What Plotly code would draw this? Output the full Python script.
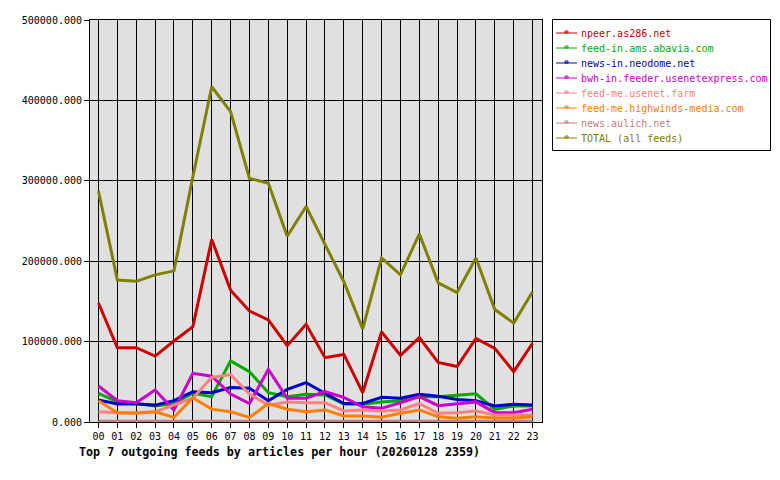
import plotly.graph_objects as go

hours = [f"{h:02d}" for h in range(24)]

npeer = [148000, 92400, 92400, 82000, 100700, 118500, 227000, 164000, 138000, 127000, 95000, 121500,
         80000, 84000, 36500, 112000, 83000, 105000, 74000, 69000, 104000, 91600, 62600, 98000]
abavia = [35700, 25000, 23000, 20000, 23000, 35700, 31500, 76000, 62600, 36500, 31500, 34400,
          33600, 22400, 22000, 25000, 26500, 31500, 31500, 33000, 35000, 15800, 20000, 20000]
neodome = [27400, 22400, 22400, 21000, 26500, 37700, 36500, 43000, 42000, 26500, 40600, 49000,
           35700, 23000, 23000, 30700, 29500, 34400, 32000, 28000, 26500, 20000, 22000, 21000]
usenetexpress = [44800, 26500, 24000, 39800, 15000, 60500, 57000, 34800, 23000, 65500, 29500, 29500,
                 37700, 30700, 19000, 17000, 24000, 31500, 20300, 22400, 25000, 11600, 11600, 15800]
usenetfarm = [12800, 11600, 11600, 12800, 21000, 29500, 55600, 59000, 34800, 21000, 25000, 24000,
              24000, 13700, 15000, 13700, 15000, 23000, 10800, 11600, 13700, 8700, 8700, 8700]
highwinds = [26500, 11600, 10800, 12800, 5800, 30000, 16000, 12800, 5800, 23000, 15800, 12800,
             15000, 7500, 7500, 5800, 10800, 15000, 6600, 4600, 6600, 5000, 5000, 6600]
aulich = [1000] * 24
total = [287000, 176600, 175000, 183000, 188000, 305000, 417000, 386000, 303000, 297000, 231000, 268000,
         221000, 174500, 115700, 204000, 183000, 234000, 173000, 161000, 204000, 140000, 123000, 162000]

names = ["npeer.as286.net", "feed-in.ams.abavia.com", "news-in.neodome.net",
         "bwh-in.feeder.usenetexpress.com", "feed-me.usenet.farm",
         "feed-me.highwinds-media.com", "news.aulich.net", "TOTAL (all feeds)"]
values = [npeer, abavia, neodome, usenetexpress, usenetfarm, highwinds, aulich, total]
colors = ["#cc0000", "#00aa00", "#0000cc", "#cc00cc", "#ff8080", "#ff8000", "#c08080", "#808000"]

# plot area in pixels
L, R, T, B = 90, 542, 20, 422
W, H = R - L, B - T
def px(x):
    return (x - L) / W
def py(y):
    return (B - y) / H

xs = list(range(24))
fig = go.Figure()
for name, vals, col in zip(names, values, colors):
    fig.add_trace(go.Scatter(x=xs, y=vals, mode="lines", line=dict(color=col, width=3),
                             name=name, showlegend=False))

mono = "DejaVu Sans Mono"
shapes = [dict(type="rect", xref="paper", yref="paper", x0=px(552.5), x1=px(770.5),
               y0=py(150.5), y1=py(19.5), line=dict(color="black", width=1),
               fillcolor="white", layer="above")]
annotations = []
for i, (name, col) in enumerate(zip(names, colors)):
    yy = 33 + 15 * i
    shapes.append(dict(type="line", xref="paper", yref="paper", x0=px(556), x1=px(577),
                       y0=py(yy), y1=py(yy), line=dict(color=col, width=1), layer="above"))
    shapes.append(dict(type="rect", xref="paper", yref="paper", x0=px(565), x1=px(568),
                       y0=py(yy), y1=py(yy - 2), line=dict(color=col, width=1), layer="above"))
    annotations.append(dict(text=name, xref="paper", yref="paper", x=px(579), y=py(yy),
                            xanchor="left", yanchor="middle", showarrow=False,
                            font=dict(family=mono, size=10, color=col)))
annotations.append(dict(
    text="<b>Top 7 outgoing feeds by articles per hour (20260128 2359)</b>",
    xref="paper", yref="paper", x=px(77), y=py(452), xanchor="left", yanchor="middle",
    showarrow=False, font=dict(family=mono, size=11.7, color="black")))

fig.update_layout(
    width=780, height=480,
    margin=dict(l=L, r=780 - R, t=T, b=480 - B),
    paper_bgcolor="white", plot_bgcolor="#e0e0e0",
    font=dict(family=mono, size=10, color="black"),
    showlegend=False,
    xaxis=dict(
        tickmode="array", tickvals=xs, ticktext=hours,
        range=[-0.45, 23.5], showgrid=True, gridcolor="black", gridwidth=1,
        ticks="outside", ticklen=5, tickcolor="black", zeroline=False,
        showline=True, linecolor="black", mirror=True,
    ),
    yaxis=dict(
        range=[0, 500000], tickvals=[0, 100000, 200000, 300000, 400000, 500000],
        tickformat=".3f", showgrid=True, gridcolor="black", gridwidth=1,
        ticks="outside", ticklen=5, tickcolor="black", zeroline=False,
        showline=True, linecolor="black", mirror=True,
    ),
    shapes=shapes,
    annotations=annotations,
)
fig.write_html("out.html")
